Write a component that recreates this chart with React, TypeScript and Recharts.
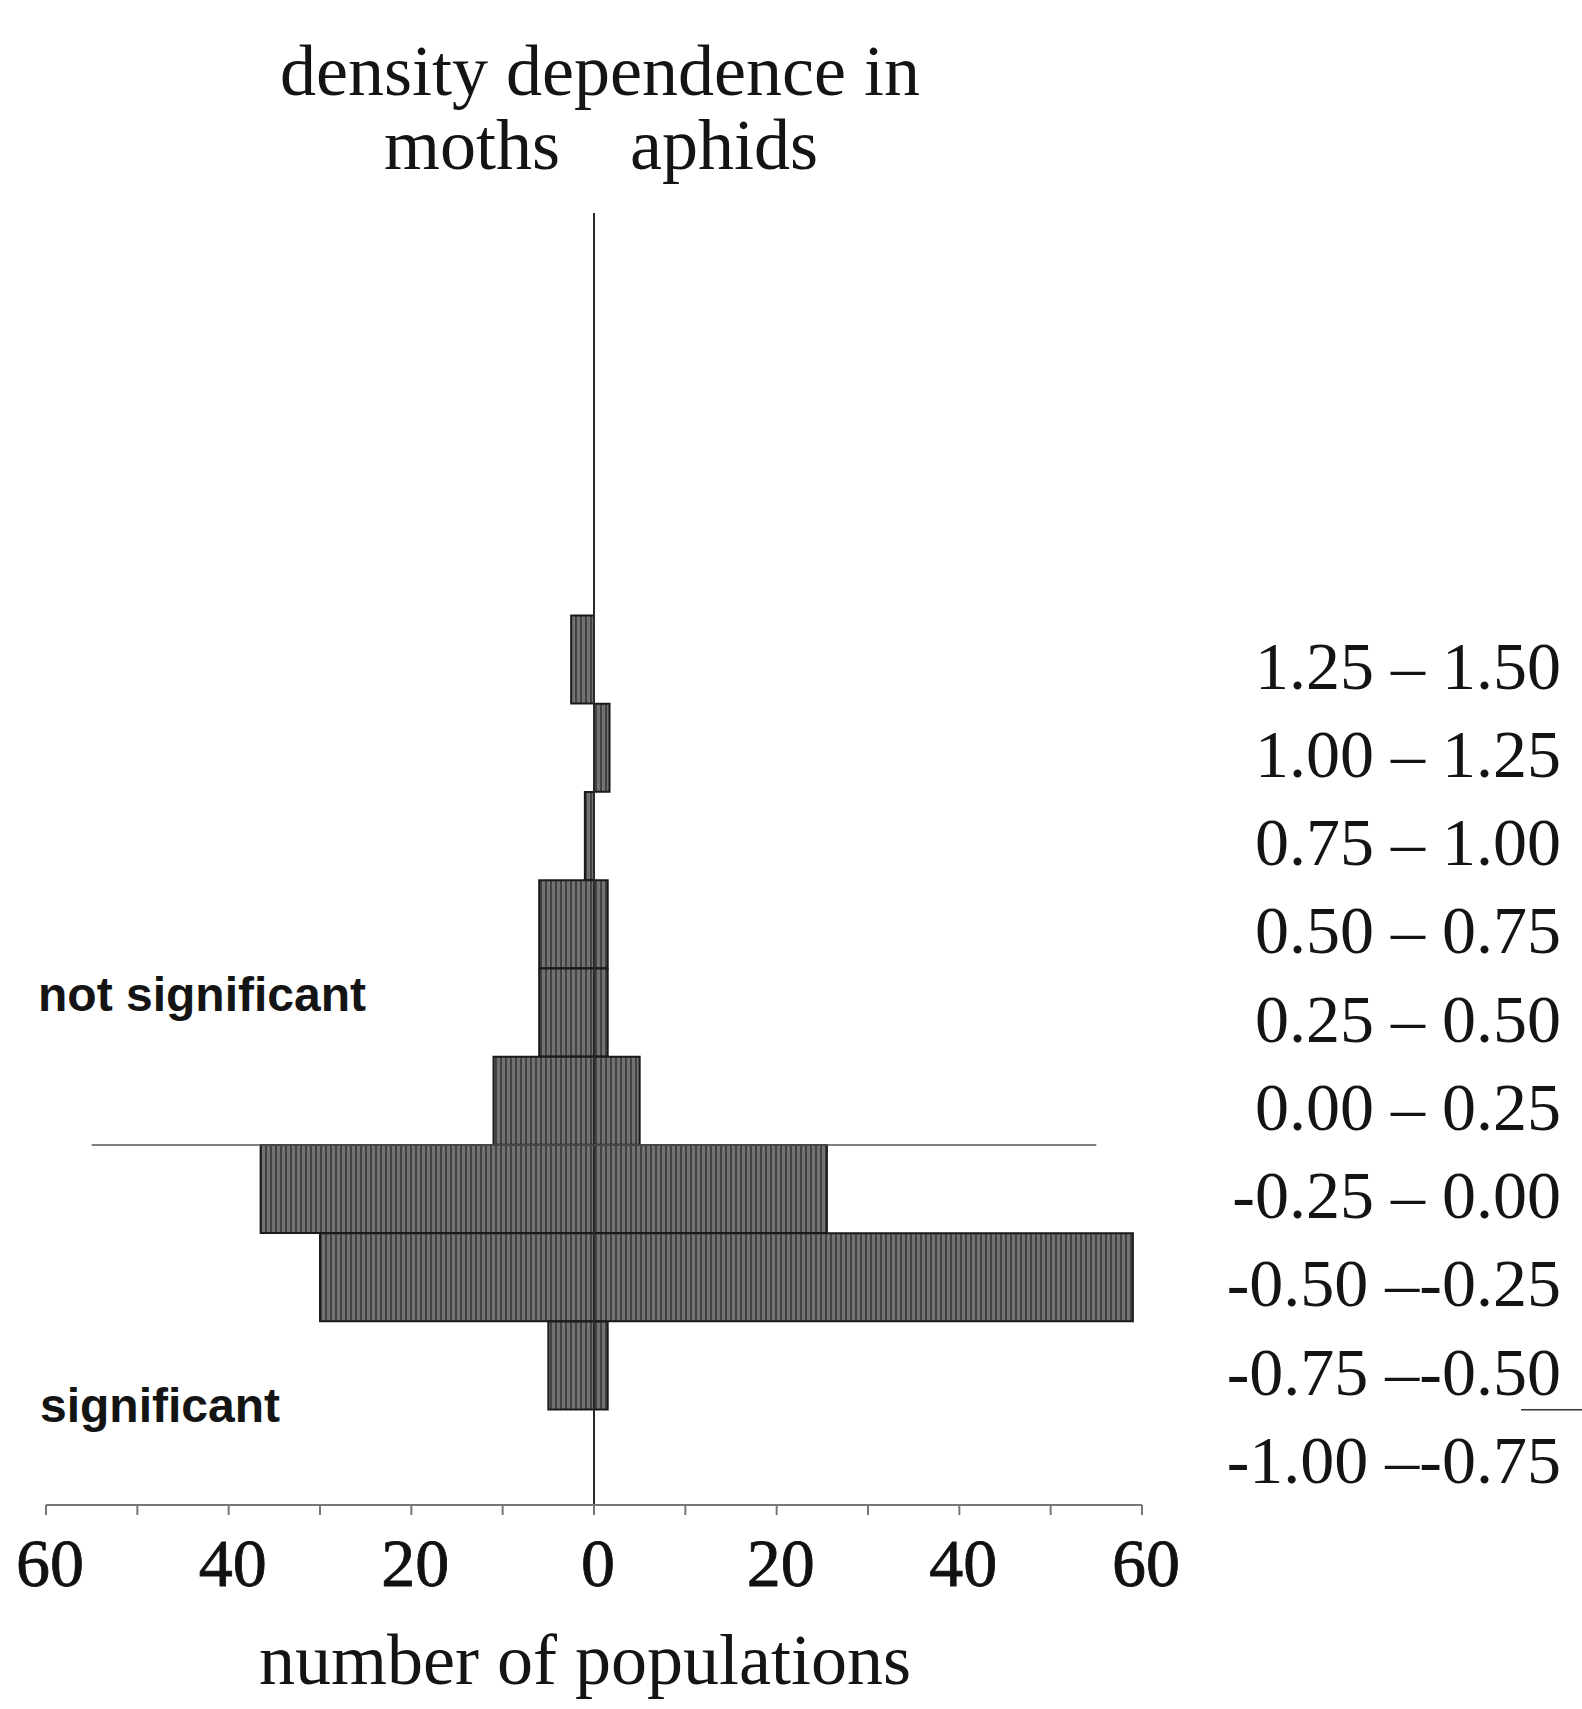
import React from "react";
import { BarChart, Bar, XAxis, YAxis, ReferenceLine } from "recharts";

// density-dependence classes, listed top to bottom (lower edge of each class)
const binLow = [1.25, 1.0, 0.75, 0.5, 0.25, 0.0, -0.25, -0.5, -0.75, -1.0];
const binLabels = [
  "1.25 – 1.50",
  "1.00 – 1.25",
  "0.75 – 1.00",
  "0.50 – 0.75",
  "0.25 – 0.50",
  "0.00 – 0.25",
  "-0.25 – 0.00",
  "-0.50 –-0.25",
  "-0.75 –-0.50",
  "-1.00 –-0.75",
];
// number of populations per class
const mothCounts = [2.5, 0, 1, 6, 6, 11, 36.5, 30, 5, 0];
const aphidCounts = [0, 1.7, 0, 1.5, 1.5, 5, 25.5, 59, 1.5, 0];
const countTicks = [-60, -50, -40, -30, -20, -10, 0, 10, 20, 30, 40, 50, 60];

const BIN = 0.25;
const Y_DOMAIN: [number, number] = [-1.02, 2.64];

const W = 1582;
const H = 1709;
const MARGIN = { top: 213, right: 0, bottom: 84, left: 46 };
const X_AXIS_H = 120;
const Y_AXIS_W = 440;
const PLOT_H = H - MARGIN.top - MARGIN.bottom - X_AXIS_H;
// a hair under the class height, otherwise recharts shrinks the bars to 90%
const BAR_PX = (PLOT_H * BIN) / (Y_DOMAIN[1] - Y_DOMAIN[0]) - 0.3;

const SERIF = '"Liberation Serif", "Times New Roman", serif';
const SANS = '"Liberation Sans", Arial, sans-serif';

const rows = binLow.map((lo, i) => ({
  mid: lo + BIN / 2,
  moths: -mothCounts[i],
  aphids: aphidCounts[i],
}));

function RangeTick(props: any) {
  const { x, y, payload } = props;
  const i = binLow.findIndex((lo) => Math.abs(lo + BIN / 2 - payload.value) < 1e-6);
  if (i < 0) return null;
  return (
    <text
      x={x + 411}
      y={y}
      dy={29}
      textAnchor="end"
      fontFamily={SERIF}
      fontSize={68}
      fill="#141414"
    >
      {binLabels[i]}
    </text>
  );
}

export default function App() {
  return (
    <div style={{ position: "absolute", left: 0, top: 0, width: W, height: H, background: "#fff" }}>
      <svg width={0} height={0} style={{ position: "absolute" }}>
        <defs>
          <pattern id="hatch" width={5} height={8} patternUnits="userSpaceOnUse">
            <rect width={5} height={8} fill="#727272" />
            <rect width={2} height={8} fill="#424242" />
          </pattern>
        </defs>
      </svg>
      <BarChart
        width={W}
        height={H}
        layout="vertical"
        data={rows}
        margin={MARGIN}
        stackOffset="sign"
        barCategoryGap={0}
        barGap={0}
      >
        <XAxis
          type="number"
          domain={[-60, 60]}
          ticks={countTicks}
          interval={0}
          allowDataOverflow
          height={X_AXIS_H}
          tickSize={10}
          tickMargin={23}
          tickFormatter={(v: number) => (v % 20 === 0 ? String(Math.abs(v)) : "")}
          axisLine={{ stroke: "#777", strokeWidth: 2 }}
          tickLine={{ stroke: "#777", strokeWidth: 2 }}
          tick={{ fontFamily: SERIF, fontSize: 68, fill: "#111", stroke: "#111", strokeWidth: 0.8, dx: 4 }}
        />
        <YAxis
          type="number"
          dataKey="mid"
          orientation="right"
          reversed
          domain={Y_DOMAIN}
          allowDataOverflow
          ticks={binLow.map((lo) => lo + BIN / 2)}
          interval={0}
          width={Y_AXIS_W}
          axisLine={false}
          tickLine={false}
          tick={<RangeTick />}
        />
        <Bar
          dataKey="moths"
          stackId="pop"
          barSize={BAR_PX}
          fill="url(#hatch)"
          stroke="#1a1a1a"
          strokeWidth={2}
          isAnimationActive={false}
        />
        <Bar
          dataKey="aphids"
          stackId="pop"
          barSize={BAR_PX}
          fill="url(#hatch)"
          stroke="#1a1a1a"
          strokeWidth={2}
          isAnimationActive={false}
        />
        <ReferenceLine x={0} stroke="#2a2a2a" strokeWidth={2} />
        <ReferenceLine
          segment={[{ x: -55, y: 0 }, { x: 55, y: 0 }]}
          stroke="#555"
          strokeWidth={1.5}
        />
        <ReferenceLine
          segment={[{ x: 101.5, y: -0.75 }, { x: 109, y: -0.75 }]}
          stroke="#333"
          strokeWidth={1.5}
          ifOverflow="visible"
        />
        <text x={600} y={95} textAnchor="middle" fontFamily={SERIF} fontSize={72} fill="#141414">
          density dependence in
        </text>
        <text x={472} y={169} textAnchor="middle" fontFamily={SERIF} fontSize={72} fill="#141414">
          moths
        </text>
        <text x={724} y={169} textAnchor="middle" fontFamily={SERIF} fontSize={72} fill="#141414">
          aphids
        </text>
        <text x={38} y={1011} fontFamily={SANS} fontWeight="bold" fontSize={48} fill="#141414">
          not significant
        </text>
        <text x={40} y={1422} fontFamily={SANS} fontWeight="bold" fontSize={48} fill="#141414">
          significant
        </text>
        <text x={585} y={1684} textAnchor="middle" fontFamily={SERIF} fontSize={72} fill="#141414">
          number of populations
        </text>
      </BarChart>
    </div>
  );
}
